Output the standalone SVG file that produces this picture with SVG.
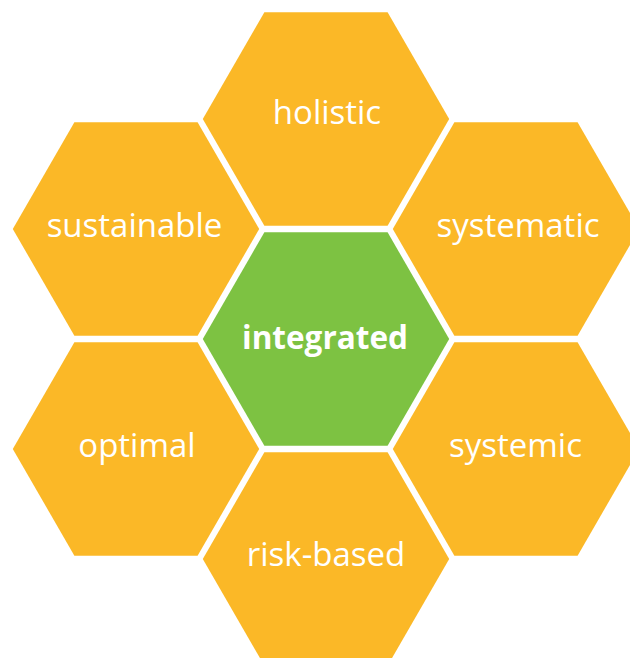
<svg xmlns="http://www.w3.org/2000/svg" xmlns:xlink="http://www.w3.org/1999/xlink" width="630" height="661" viewBox="0 0 630 661">
  <style>
    .outer { fill: #FBB827; }
    .core { fill: #7DC242; }
    .lbl { font-family: "Open Sans", "Noto Sans", "Liberation Sans", sans-serif; font-size: 33px; fill: #FFFFFF; text-anchor: middle; }
    .lblb { font-family: "Open Sans", "Noto Sans", "Liberation Sans", sans-serif; font-size: 31.5px; font-weight: bold; fill: #FFFFFF; text-anchor: middle; }
  </style>
  <defs>
    <polygon id="hex" points="-123.2,0 -61.6,-106.7 61.6,-106.7 123.2,0 61.6,106.7 -61.6,106.7"/>
    <clipPath id="pageclip"><rect x="0" y="0" width="630" height="658"/></clipPath>
  </defs>
  <rect x="0" y="0" width="630" height="661" fill="#FFFFFF"/>
  <g id="connectors"></g>
  <g id="node-holistic">
    <use xlink:href="#hex" href="#hex" class="outer" transform="translate(326,119)"/>
    <text class="lbl" x="327" y="124">holistic</text>
  </g>
  <g id="node-sustainable">
    <use xlink:href="#hex" href="#hex" class="outer" transform="translate(136,229)"/>
    <text class="lbl" x="134.5" y="237">sustainable</text>
  </g>
  <g id="node-systematic">
    <use xlink:href="#hex" href="#hex" class="outer" transform="translate(516,229)"/>
    <text class="lbl" x="518" y="237">systematic</text>
  </g>
  <g id="node-optimal">
    <use xlink:href="#hex" href="#hex" class="outer" transform="translate(136,449)"/>
    <text class="lbl" x="137" y="457">optimal</text>
  </g>
  <g id="node-systemic">
    <use xlink:href="#hex" href="#hex" class="outer" transform="translate(516,449)"/>
    <text class="lbl" x="515.5" y="457">systemic</text>
  </g>
  <g id="node-risk-based">
    <g clip-path="url(#pageclip)">
      <use xlink:href="#hex" href="#hex" class="outer" transform="translate(326,559)"/>
    </g>
    <text class="lbl" x="326" y="566">risk-based</text>
  </g>
  <g id="node-integrated">
    <use xlink:href="#hex" href="#hex" class="core" transform="translate(326,339)"/>
    <text class="lblb" x="325" y="349">integrated</text>
  </g>
</svg>
